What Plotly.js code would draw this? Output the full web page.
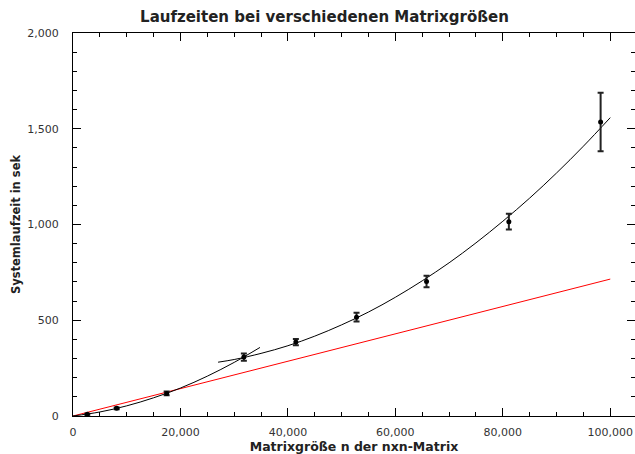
<!DOCTYPE html>
<html>
<head>
<meta charset="utf-8">
<script src="https://cdn.plot.ly/plotly-3.0.1.min.js"></script>
<style>html,body{margin:0;padding:0;background:#fff;}#chart{width:635px;height:454px;}</style>
</head>
<body>
<div id="chart"></div>
<script>
// Measured points: matrix size n vs. system runtime (s)
const sizes    = [2660, 8130, 17430, 31800, 41480, 52770, 65800, 81120, 98200];
const runtimes = [9, 40, 118, 308, 386, 516, 702, 1015, 1535];
const errors   = [3, 5, 10, 19, 16, 23, 30, 41, 153];

// Fit curve for small matrices
const fitSmallX = [0, 5000, 10000, 15000, 20000, 25000, 30000, 34800];
const fitSmallY = [0, 21, 53, 95, 146, 208, 280, 358];

// Fit curve for large matrices
const fitLargeX = [27000, 30000, 35000, 40000, 45000, 50000, 55000, 60000, 65000, 70000, 75000, 80000, 85000, 90000, 95000, 100000];
const fitLargeY = [281, 295, 327, 367, 417, 476, 543, 620, 706, 800, 904, 1017, 1138, 1269, 1409, 1558];

// Linear reference line
const linX = [0, 100000];
const linY = [0, 715];

const traces = [
  {x: linX, y: linY, type: 'scatter', mode: 'lines', line: {color: '#ff0000', width: 1}, hoverinfo: 'skip'},
  {x: fitSmallX, y: fitSmallY, type: 'scatter', mode: 'lines', line: {color: '#000000', width: 1, shape: 'spline'}, hoverinfo: 'skip'},
  {x: fitLargeX, y: fitLargeY, type: 'scatter', mode: 'lines', line: {color: '#000000', width: 1, shape: 'spline'}, hoverinfo: 'skip'},
  {x: sizes, y: runtimes, type: 'scatter', mode: 'markers',
   marker: {color: '#000000', size: 5},
   error_y: {type: 'data', array: errors, visible: true, color: '#222222', thickness: 2, width: 3}}
];

const fontFam = 'DejaVu Sans, sans-serif';
const layout = {
  width: 635, height: 454,
  margin: {l: 73, r: 0, t: 33, b: 38},
  paper_bgcolor: '#ffffff', plot_bgcolor: '#ffffff',
  showlegend: false,
  font: {family: fontFam, size: 11, color: '#333333'},
  title: {text: 'Laufzeiten bei verschiedenen Matrixgrößen', font: {family: fontFam, size: 15, color: '#222222', weight: 'bold'}, x: 0.511, xanchor: 'center', y: 0.963, yanchor: 'middle'},
  xaxis: {
    range: [0, 104600], dtick: 20000, tick0: 0, tickformat: ',',
    showgrid: false, zeroline: false,
    showline: true, linecolor: '#000', linewidth: 1, mirror: 'allticks',
    ticks: 'inside', ticklen: 8, tickcolor: '#000', tickwidth: 1,
    ticklabelstandoff: 6,
    minor: {dtick: 5000, ticks: 'inside', ticklen: 4, tickcolor: '#000', tickwidth: 1, showgrid: false},
    tickfont: {family: fontFam, size: 11, color: '#333333'},
    title: {text: 'Matrixgröße n der nxn-Matrix', font: {family: fontFam, size: 12.5, color: '#222222', weight: 'bold'}, standoff: 0}
  },
  yaxis: {
    range: [0, 2000], dtick: 500, tick0: 0, tickformat: ',',
    showgrid: false, zeroline: false,
    showline: true, linecolor: '#000', linewidth: 1, mirror: 'allticks',
    ticks: 'inside', ticklen: 8, tickcolor: '#000', tickwidth: 1,
    ticklabelstandoff: 11,
    minor: {dtick: 100, ticks: 'inside', ticklen: 4, tickcolor: '#000', tickwidth: 1, showgrid: false},
    tickfont: {family: fontFam, size: 11, color: '#333333'},
    title: {text: 'Systemlaufzeit in sek', font: {family: fontFam, size: 11.5, color: '#222222', weight: 'bold'}, standoff: 4}
  }
};

Plotly.newPlot('chart', traces, layout, {displayModeBar: false, staticPlot: true});
</script>
</body>
</html>
